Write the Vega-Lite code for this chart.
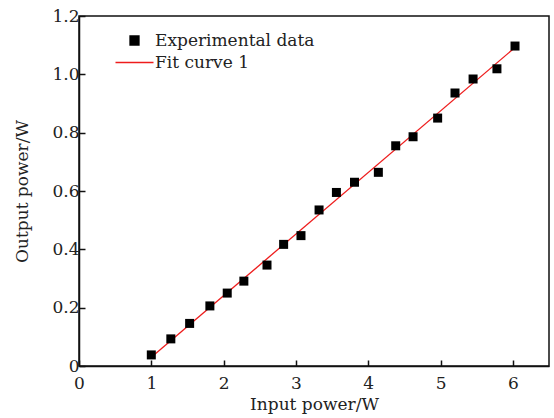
{
  "$schema": "https://vega.github.io/schema/vega-lite/v6.json",
  "width": 470,
  "height": 350,
  "autosize": "none",
  "padding": {"left": 79, "top": 16, "right": 5, "bottom": 52},
  "background": "white",
  "config": {
    "view": {"stroke": "#111", "strokeWidth": 1.5},
    "font": "DejaVu Serif",
    "axis": {
      "grid": false,
      "domainColor": "#111",
      "domainWidth": 1.5,
      "tickColor": "#111",
      "tickWidth": 1.5,
      "labelFont": "DejaVu Serif",
      "labelFontSize": 17,
      "labelColor": "#222",
      "titleFont": "DejaVu Serif",
      "titleFontSize": 17,
      "titleFontWeight": "normal",
      "titleColor": "#222",
      "labelOverlap": false,
      "labelFlush": false
    }
  },
  "datasets": {
    "points": [
      {"input": 1.0, "output": 0.038, "series": "Experimental data"},
      {"input": 1.27, "output": 0.093, "series": "Experimental data"},
      {"input": 1.53, "output": 0.146, "series": "Experimental data"},
      {"input": 1.81, "output": 0.206, "series": "Experimental data"},
      {"input": 2.05, "output": 0.25, "series": "Experimental data"},
      {"input": 2.28, "output": 0.291, "series": "Experimental data"},
      {"input": 2.6, "output": 0.346, "series": "Experimental data"},
      {"input": 2.83, "output": 0.417, "series": "Experimental data"},
      {"input": 3.07, "output": 0.447, "series": "Experimental data"},
      {"input": 3.32, "output": 0.535, "series": "Experimental data"},
      {"input": 3.56, "output": 0.595, "series": "Experimental data"},
      {"input": 3.81, "output": 0.63, "series": "Experimental data"},
      {"input": 4.14, "output": 0.664, "series": "Experimental data"},
      {"input": 4.38, "output": 0.755, "series": "Experimental data"},
      {"input": 4.62, "output": 0.786, "series": "Experimental data"},
      {"input": 4.96, "output": 0.85, "series": "Experimental data"},
      {"input": 5.2, "output": 0.936, "series": "Experimental data"},
      {"input": 5.45, "output": 0.984, "series": "Experimental data"},
      {"input": 5.78, "output": 1.019, "series": "Experimental data"},
      {"input": 6.03, "output": 1.097, "series": "Experimental data"}
    ],
    "fit": [
      {"input": 1.0, "output": 0.03, "series": "Fit curve 1"},
      {"input": 6.03, "output": 1.092, "series": "Fit curve 1"}
    ]
  },
  "layer": [
    {
      "data": {"name": "fit"},
      "mark": {"type": "line", "strokeWidth": 1.3},
      "encoding": {
        "x": {"field": "input", "type": "quantitative"},
        "y": {"field": "output", "type": "quantitative"},
        "color": {
          "field": "series",
          "type": "nominal",
          "scale": {"domain": ["Experimental data", "Fit curve 1"], "range": ["#000000", "#ee1c1c"]},
          "legend": {
            "orient": "none",
            "legendX": 47,
            "legendY": 16,
            "title": null,
            "symbolSize": 1444,
            "labelFont": "DejaVu Serif",
            "labelFontSize": 17,
            "labelColor": "#222",
            "labelOffset": 12,
            "rowPadding": 4,
            "encode": {
              "symbols": {
                "update": {
                  "shape": {"signal": "datum.label === 'Fit curve 1' ? 'stroke' : 'square'"},
                  "size": {"signal": "datum.label === 'Fit curve 1' ? 1444 : 81"},
                  "fill": {"signal": "datum.label === 'Fit curve 1' ? 'transparent' : '#000000'"},
                  "stroke": {"signal": "datum.label === 'Fit curve 1' ? '#ee1c1c' : 'transparent'"},
                  "strokeWidth": {"value": 1.3},
                  "opacity": {"value": 1}
                }
              }
            }
          }
        }
      }
    },
    {
      "data": {"name": "points"},
      "mark": {"type": "point", "shape": "square", "filled": true, "size": 81, "opacity": 1},
      "encoding": {
        "x": {
          "field": "input",
          "type": "quantitative",
          "scale": {"domain": [0, 6.5], "nice": false, "zero": false},
          "axis": {
            "title": "Input power/W",
            "values": [0, 0.5, 1, 1.5, 2, 2.5, 3, 3.5, 4, 4.5, 5, 5.5, 6],
            "labelExpr": "abs(datum.value - round(datum.value)) < 0.001 ? format(datum.value, 'd') : ''",
            "tickSize": {"condition": {"test": "abs(datum.value - round(datum.value)) < 0.001", "value": -6}, "value": -3},
            "labelPadding": 15,
            "titlePadding": 5
          }
        },
        "y": {
          "field": "output",
          "type": "quantitative",
          "scale": {"domain": [0, 1.2], "nice": false, "zero": false},
          "axis": {
            "title": "Output power/W",
            "values": [0, 0.1, 0.2, 0.3, 0.4, 0.5, 0.6, 0.7, 0.8, 0.9, 1.0, 1.1, 1.2],
            "labelExpr": "abs(datum.value * 5 - round(datum.value * 5)) < 0.001 ? (datum.value == 0 ? '0' : format(datum.value, '.1f')) : ''",
            "tickSize": {"condition": {"test": "abs(datum.value * 5 - round(datum.value * 5)) < 0.001", "value": -6}, "value": -3},
            "labelPadding": 6,
            "titlePadding": 20
          }
        },
        "color": {
          "field": "series",
          "type": "nominal",
          "scale": {"domain": ["Experimental data", "Fit curve 1"], "range": ["#000000", "#ee1c1c"]},
          "legend": {
            "orient": "none",
            "legendX": 47,
            "legendY": 16,
            "title": null,
            "symbolSize": 1444,
            "labelFont": "DejaVu Serif",
            "labelFontSize": 17,
            "labelColor": "#222",
            "labelOffset": 12,
            "rowPadding": 4,
            "encode": {
              "symbols": {
                "update": {
                  "shape": {"signal": "datum.label === 'Fit curve 1' ? 'stroke' : 'square'"},
                  "size": {"signal": "datum.label === 'Fit curve 1' ? 1444 : 81"},
                  "fill": {"signal": "datum.label === 'Fit curve 1' ? 'transparent' : '#000000'"},
                  "stroke": {"signal": "datum.label === 'Fit curve 1' ? '#ee1c1c' : 'transparent'"},
                  "strokeWidth": {"value": 1.3},
                  "opacity": {"value": 1}
                }
              }
            }
          }
        }
      }
    }
  ]
}
